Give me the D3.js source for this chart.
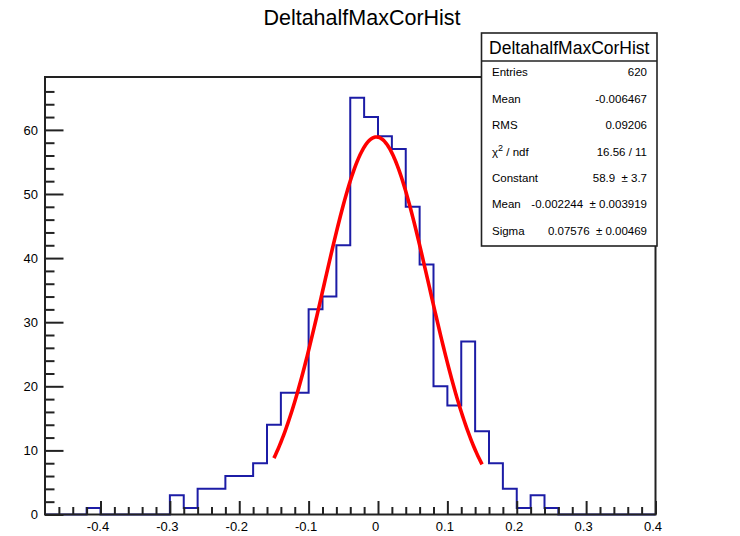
<!DOCTYPE html>
<html>
<head>
<meta charset="utf-8">
<script src="https://cdn.jsdelivr.net/npm/d3@7"></script>
<style>
  html, body { margin: 0; padding: 0; background: #fff; }
  svg { display: block; font-family: "Liberation Sans", Arial, Helvetica, sans-serif; }
</style>
</head>
<body>
<svg id="chart" width="740" height="536"></svg>
<script>
// ---- data ----
const title = "DeltahalfMaxCorHist";
const binLow = -0.48;      // lower edge of histogram range
const binWidth = 0.02;
const binCounts = [0, 0, 0, 1, 0, 0, 0, 0, 0, 3, 1, 4, 4, 6, 6, 8, 14, 19, 19, 32, 34, 42,
                   65, 62, 59, 57, 48, 39, 20, 17, 27, 13, 8, 4, 1, 3, 1, 0, 0, 0, 0, 0, 0, 0];
const xDomain = [-0.48, 0.4];
const yDomain = [0, 68.25];
const xMajorTicks = [-0.4, -0.3, -0.2, -0.1, 0, 0.1, 0.2, 0.3, 0.4];
const xTickLabels = ["-0.4", "-0.3", "-0.2", "-0.1", "0", "0.1", "0.2", "0.3", "0.4"];
const yMajorTicks = [0, 10, 20, 30, 40, 50, 60];
const yTickLabels = ["0", "10", "20", "30", "40", "50", "60"];
// Gaussian fit parameters (from the stats box)
const fitConstant = 58.9;
const fitMean = -0.002244;
const fitSigma = 0.07576;
const fitRange = [-0.15, 0.15];
const statLabels = ["Entries", "Mean", "RMS", "chi2", "Constant", "Mean", "Sigma"];
const statValues = ["620", "-0.006467", "0.09206", "16.56 / 11", "58.9  \u00b1 3.7",
                    "-0.002244  \u00b1 0.003919", "0.07576  \u00b1 0.00469"];

// ---- layout ----
const frame = { left: 45, right: 655.5, top: 77, bottom: 514.5 };
const svg = d3.select("#chart");

const x = d3.scaleLinear().domain(xDomain).range([frame.left, frame.right]);
const y = d3.scaleLinear().domain(yDomain).range([frame.bottom, frame.top]);

// Title
svg.append("text")
  .attr("x", 362).attr("y", 25)
  .attr("text-anchor", "middle")
  .attr("font-size", 21.5)
  .attr("fill", "#000")
  .text(title);

// Histogram step outline
const pts = [];
pts.push([binLow, 0]);
binCounts.forEach((c, i) => {
  const lo = binLow + i * binWidth, hi = lo + binWidth;
  pts.push([lo, c]);
  pts.push([hi, c]);
});
pts.push([binLow + binCounts.length * binWidth, 0]);
svg.append("path")
  .attr("d", d3.line().x(d => x(d[0])).y(d => y(d[1]))(pts))
  .attr("fill", "none")
  .attr("stroke", "#1c1ca6")
  .attr("stroke-width", 2);

// Fit curve
const nSamp = 150;
const fitPts = d3.range(nSamp + 1).map(k => {
  const xv = fitRange[0] + (fitRange[1] - fitRange[0]) * k / nSamp;
  const z = (xv - fitMean) / fitSigma;
  return [xv, fitConstant * Math.exp(-0.5 * z * z)];
});
svg.append("path")
  .attr("d", d3.line().x(d => x(d[0])).y(d => y(d[1]))(fitPts))
  .attr("fill", "none")
  .attr("stroke", "#ff0000")
  .attr("stroke-width", 3.6);

// Axes: minor ticks
const xMinor = d3.range(-0.46, 0.4, 0.02).map(v => +v.toFixed(2)).filter(v => !xMajorTicks.some(m => Math.abs(m - v) < 1e-9));
const yMinor = d3.range(2, 68, 2).filter(v => v % 10 !== 0);

const xAxisMinor = d3.axisBottom(x).tickValues(xMinor).tickSize(-7.5).tickFormat("");
const yAxisMinor = d3.axisLeft(y).tickValues(yMinor).tickSize(-9.5).tickFormat("");
const xAxis = d3.axisBottom(x).tickValues(xMajorTicks).tickSize(-13.5).tickPadding(7)
  .tickFormat((d, i) => xTickLabels[i]);
const yAxis = d3.axisLeft(y).tickValues(yMajorTicks).tickSize(-18.5).tickPadding(7)
  .tickFormat((d, i) => yTickLabels[i]);

function styleAxis(g) {
  g.select(".domain").remove();
  g.selectAll("line").attr("stroke", "#222").attr("stroke-width", 2);
  g.selectAll("text").attr("font-size", 13).attr("fill", "#000")
    .attr("font-family", "'Liberation Sans', Arial, sans-serif");
}
svg.append("g").attr("transform", `translate(0,${frame.bottom})`).call(xAxisMinor).call(styleAxis);
svg.append("g").attr("transform", `translate(${frame.left},0)`).call(yAxisMinor).call(styleAxis);
svg.append("g").attr("transform", `translate(0,${frame.bottom})`).call(xAxis).call(styleAxis)
  .selectAll("text").attr("dx", -3);
svg.append("g").attr("transform", `translate(${frame.left},0)`).call(yAxis).call(styleAxis);

// Frame
svg.append("rect")
  .attr("x", frame.left).attr("y", frame.top)
  .attr("width", frame.right - frame.left).attr("height", frame.bottom - frame.top)
  .attr("fill", "none").attr("stroke", "#222").attr("stroke-width", 2);

// Stats box
const box = { x: 481.5, y: 33, w: 175.5, h: 213, titleH: 28 };
const gs = svg.append("g");
gs.append("rect").attr("x", box.x).attr("y", box.y).attr("width", box.w).attr("height", box.h)
  .attr("fill", "#fff").attr("stroke", "#222").attr("stroke-width", 1.6);
gs.append("line").attr("x1", box.x).attr("x2", box.x + box.w)
  .attr("y1", box.y + box.titleH).attr("y2", box.y + box.titleH)
  .attr("stroke", "#222").attr("stroke-width", 1.6);
gs.append("text").attr("x", box.x + box.w / 2).attr("y", box.y + 21)
  .attr("text-anchor", "middle").attr("font-size", 17.5).attr("fill", "#000").text(title);

const rowH = (box.h - box.titleH) / statLabels.length;
statLabels.forEach((lab, i) => {
  const cy = box.y + box.titleH + (i + 0.5) * rowH - 2;
  const t = gs.append("text").attr("x", 492).attr("y", cy + 4)
    .attr("font-size", 11.5).attr("fill", "#000");
  if (lab === "chi2") {
    t.append("tspan").text("\u03c7");
    t.append("tspan").attr("dy", -5).attr("font-size", 9).text("2");
    t.append("tspan").attr("dy", 5).text(" / ndf");
  } else {
    t.text(lab);
  }
  gs.append("text").attr("x", 647).attr("y", cy + 4)
    .attr("text-anchor", "end").attr("font-size", 11.5).attr("fill", "#000")
    .attr("xml:space", "preserve").style("white-space", "pre")
    .text(statValues[i]);
});
</script>
</body>
</html>
